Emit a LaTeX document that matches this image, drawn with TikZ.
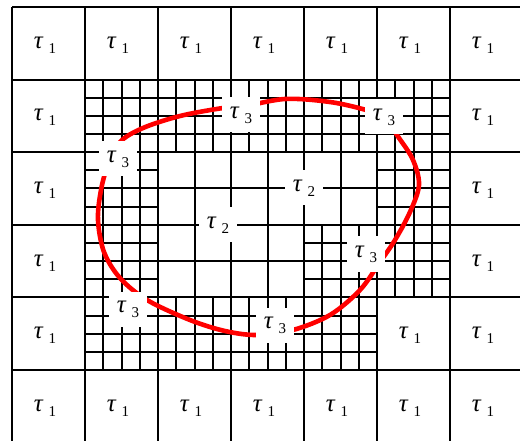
\documentclass[tikz,border=0pt]{standalone}
\usepackage{fontspec}
\setmainfont{Liberation Serif}
\usetikzlibrary{calc}

% tau with a lowered index, as the cells print it
\newcommand{\tl}[1]{\textit{τ}\hspace{5pt}\raisebox{-5pt}{\fontsize{15}{15}\selectfont #1}}
% split one coarse cell (column, row) at the given fractions
\newcommand{\splitcell}[3]{%
  \foreach \k in {#3}{
    \draw[gridline] (12+73*#1+73*\k, 7+72.6*#2) -- ++(0,72.6);
    \draw[gridline] (12+73*#1, 7+72.6*#2+72.6*\k) -- ++(73,0);
  }}

\begin{document}
\begin{tikzpicture}[x=1pt, y=-1pt,
  gridline/.style = {line width=2pt, black},
  lab/.style      = {font=\fontsize{25}{25}\selectfont, inner sep=0pt},
  cut/.style      = {lab, fill=white, minimum width=38pt, minimum height=35pt},
  contour/.style  = {line width=4.6pt, red, line join=round}
]
\useasboundingbox (0,0) rectangle (520,441);
\clip (0,0) rectangle (520,441);

% coarse grid
\foreach \i in {0,...,7}
  \draw[gridline] (12+73*\i, 7) -- ++(0, 435.6);
\foreach \j in {0,...,6}
  \draw[gridline] (12, 7+72.6*\j) -- ++(511, 0);

% fine and medium refinement
\foreach \cx/\ry in {1/1,2/1,3/1,4/1,5/1,1/2,5/2,1/3,4/3,5/3,1/4,2/4,3/4,4/4}
  \splitcell{\cx}{\ry}{0.25,0.5,0.75};
\foreach \cx/\ry in {2/2,3/2,4/2,2/3,3/3}
  \splitcell{\cx}{\ry}{0.5};

% interface
\draw[contour] plot[smooth cycle, tension=0.55] coordinates {
  (241,107) (285,99) (330,102) (366,110) (384,118) (399,138) (413,160)
  (419,185) (410,212) (395,240) (380,262) (360,290) (330,315) (293,330)
  (257,335) (225,331) (190,320) (147,300) (120,278) (104,252) (98,220)
  (101,190) (108,165) (120,142) (143,128) (180,116) (223,108)};

% labels on the refined zone
\node[cut] (t3-a) at (241,115) {\tl{3}};
\node[cut] (t3-b) at (384,117) {\tl{3}};
\node[cut] (t3-c) at (118,159) {\tl{3}};
\node[cut] (t3-d) at (366,254) {\tl{3}};
\node[cut] (t3-e) at (128,309) {\tl{3}};
\node[cut] (t3-f) at (275,325) {\tl{3}};
\node[cut] (t2-a) at (304,188) {\tl{2}};
\node[cut] (t2-b) at (218,225) {\tl{2}};

% coarse cells
\foreach \cx/\ry in {0/0,1/0,2/0,3/0,4/0,5/0,6/0,
                     0/1,6/1,0/2,6/2,0/3,6/3,0/4,5/4,6/4,
                     0/5,1/5,2/5,3/5,4/5,5/5,6/5}
  \node[lab] (t1-\cx-\ry) at (12+73*\cx+33, 7+72.6*\ry+38) {\tl{1}};
\end{tikzpicture}
\end{document}
